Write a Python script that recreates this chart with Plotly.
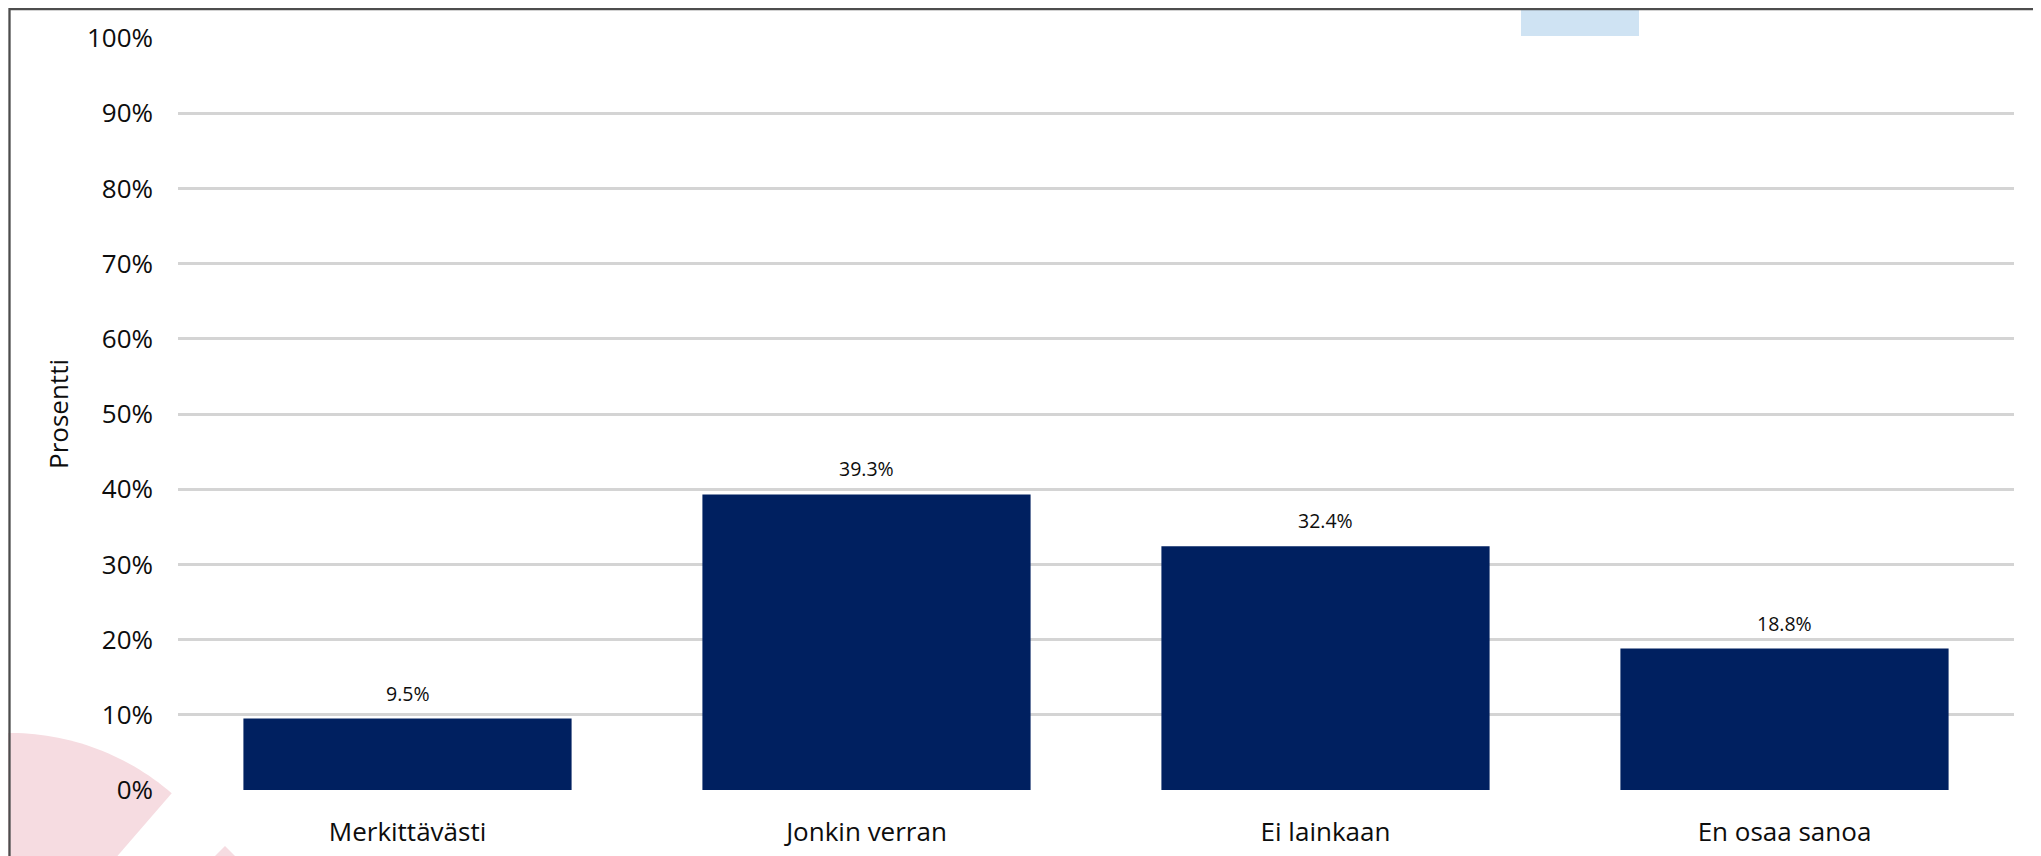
import math
import plotly.graph_objects as go

categories = ["Merkittävästi", "Jonkin verran", "Ei lainkaan", "En osaa sanoa"]
values = [9.5, 39.3, 32.4, 18.8]          # percent
y_title = "Prosentti"

# the page body has an 8px margin: work in reference-page pixels and shift
OFF = 8
W, H = 2041 - OFF, 856 - OFF
L, R, T, B = 178 - OFF, 2014 - OFF, 38 - OFF, 790 - OFF   # plot area (figure px)


def px(x):
    """reference page x pixel -> paper"""
    return (x - OFF - L) / (R - L)


def py(y):
    """reference page y pixel -> paper"""
    return (B - (y - OFF)) / (B - T)


FONT = "Open Sans"
NAVY = "#002060"
TXT = "#0d0d0d"

fig = go.Figure()
fig.add_trace(go.Bar(
    x=categories,
    y=[v / 100 for v in values],
    marker=dict(color=NAVY, line=dict(width=0)),
    hoverinfo="skip",
))

for c, v in zip(categories, values):
    fig.add_annotation(
        x=c, y=v / 100, xref="x", yref="y",
        text=f"{v:.1f}%", showarrow=False,
        yanchor="bottom", yshift=10,
        font=dict(family=FONT, size=19.5, color=TXT),
    )

# decorative background shapes (reference page pixels)
cx, cy, r = 10, 980, 247
pts = []
for i in range(0, 61):
    a = math.radians(49.1 + i * (130 - 49.1) / 60)
    pts.append((cx + r * math.cos(a), cy - r * math.sin(a)))
path = f"M {px(cx)},{py(cy)} " + " ".join(f"L {px(x)},{py(y)}" for x, y in pts) + " Z"

shapes = [
    dict(type="path", path=path, xref="paper", yref="paper",
         fillcolor="#f6dce1", line=dict(width=0), layer="below"),
    dict(type="path",
         path=f"M {px(205)},{py(866)} L {px(225)},{py(846)} L {px(245)},{py(866)} Z",
         xref="paper", yref="paper", fillcolor="#f6dce1", line=dict(width=0), layer="below"),
    dict(type="rect", xref="paper", yref="paper",
         x0=px(1521), x1=px(1639), y0=py(36), y1=py(-5),
         fillcolor="#cfe3f3", line=dict(width=0), layer="below"),
    dict(type="rect", xref="paper", yref="paper",
         x0=px(9.5), x1=px(2100), y0=py(9.2), y1=py(900),
         fillcolor="rgba(0,0,0,0)", line=dict(color="#4d4d4d", width=2.3), layer="below"),
]

fig.update_layout(
    width=W, height=H,
    margin=dict(l=L, r=W - R, t=T, b=H - B, autoexpand=False),
    paper_bgcolor="white", plot_bgcolor="white",
    bargap=0.285,
    showlegend=False,
    shapes=shapes,
    font=dict(family=FONT, color=TXT),
    xaxis=dict(
        showgrid=False, zeroline=False, showline=False, ticks="",
        tickfont=dict(family=FONT, size=26, color=TXT),
        ticklabelstandoff=24,
    ),
    yaxis=dict(
        range=[0, 1], dtick=0.1, tickformat=".0%",
        showgrid=True, gridcolor="#d4d4d4", gridwidth=2.5,
        zeroline=False, showline=False, ticks="",
        tickfont=dict(family=FONT, size=26, color=TXT),
        ticklabelstandoff=24,
        title=dict(text=y_title, font=dict(family=FONT, size=26, color=TXT), standoff=10),
    ),
)

fig.write_html("out.html")
